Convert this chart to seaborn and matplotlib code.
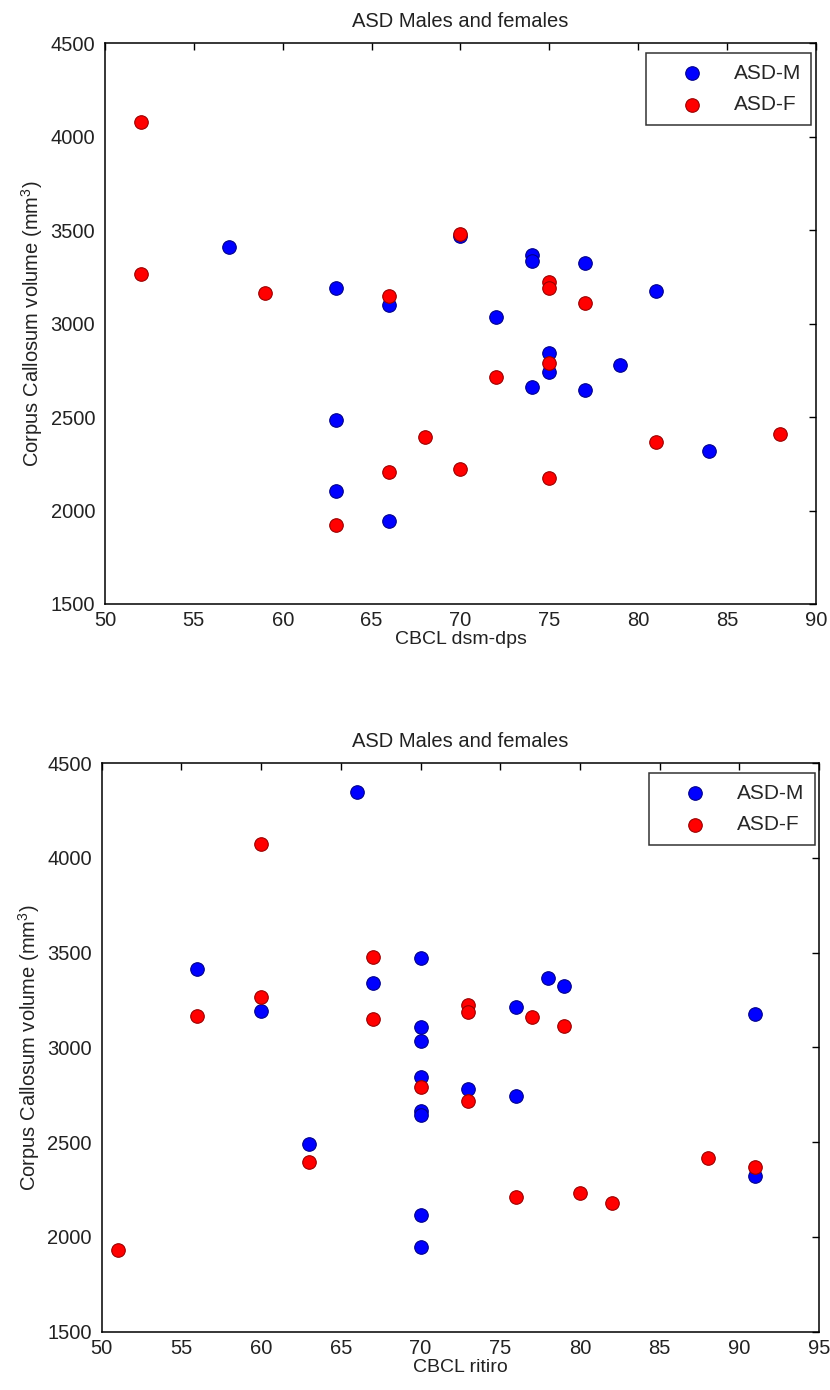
import matplotlib
matplotlib.use("Agg")
import matplotlib.pyplot as plt
import seaborn as sns
import pandas as pd

# CBCL dsm-dps vs corpus callosum volume
dps_m_x = [57, 63, 66, 70, 74, 74, 77, 81, 72, 75, 75, 79, 74, 77, 84, 63, 63, 66]
dps_m_y = [3410, 3192, 3101, 3470, 3365, 3335, 3324, 3173, 3035, 2842, 2740, 2780, 2663, 2646, 2320, 2487, 2106, 1942]
dps_f_x = [52, 52, 59, 66, 70, 75, 75, 77, 75, 72, 68, 70, 75, 81, 88, 66, 63]
dps_f_y = [4080, 3268, 3164, 3147, 3478, 3223, 3190, 3110, 2788, 2717, 2392, 2222, 2172, 2365, 2410, 2204, 1924]

# CBCL ritiro vs corpus callosum volume
rit_m_x = [66, 70, 56, 67, 60, 70, 70, 78, 79, 76, 91, 73, 76, 91, 70, 70, 70, 63, 70, 70]
rit_m_y = [4347, 3470, 3412, 3342, 3192, 3106, 3035, 3368, 3324, 3212, 3175, 2779, 2745, 2323, 2845, 2666, 2643, 2490, 2114, 1948]
rit_f_x = [60, 67, 60, 56, 67, 73, 73, 77, 79, 73, 88, 91, 76, 80, 82, 70, 63, 51]
rit_f_y = [4074, 3479, 3268, 3166, 3148, 3224, 3189, 3159, 3113, 2719, 2414, 2370, 2212, 2230, 2177, 2789, 2393, 1930]

title = "ASD Males and females"
ylabel = "Corpus Callosum volume (mm$^3$)"
groups = ["ASD-M", "ASD-F"]
palette = {"ASD-M": "#0000ff", "ASD-F": "#ff0000"}
edges = {"ASD-M": "#00008a", "ASD-F": "#9a0000"}

sns.set_theme(style="white")
plt.rcParams["font.family"] = ["Liberation Sans", "DejaVu Sans"]
plt.rcParams["mathtext.fontset"] = "custom"
plt.rcParams["mathtext.rm"] = "Liberation Sans"

fig = plt.figure(figsize=(8.3, 13.9), dpi=100)
ax1 = fig.add_axes([0.1265, 0.5655, 0.8565, 0.4033])
ax2 = fig.add_axes([0.1225, 0.042, 0.8645, 0.4089])


def build(mx, my, fx, fy):
    return pd.DataFrame({
        "x": mx + fx,
        "y": my + fy,
        "group": [groups[0]] * len(mx) + [groups[1]] * len(fx),
    })


def draw(ax, df, xlabel, xlim, xticks):
    for g in groups:
        sub = df[df["group"] == g]
        sns.scatterplot(data=sub, x="x", y="y", ax=ax, color=palette[g],
                        edgecolor=edges[g], linewidth=0.8, s=95,
                        marker="o", label=g, zorder=3)
    ax.set_xlim(*xlim)
    ax.set_ylim(1500, 4500)
    ax.set_xticks(xticks)
    ax.set_yticks(range(1500, 4501, 500))
    ax.set_title(title, fontsize=14.5, pad=12, color="#222222")
    ax.set_xlabel(xlabel, fontsize=14, color="#222222", labelpad=1)
    ax.set_ylabel(ylabel, fontsize=14.5, color="#222222", labelpad=4)
    ax.tick_params(axis="both", labelsize=14.5, colors="#222222",
                   direction="in", length=5, width=1, top=True, right=True)
    ax.tick_params(axis="x", pad=5)
    ax.tick_params(axis="y", pad=7)
    ax.tick_params(axis="both", which="both", color="black")
    for sp in ax.spines.values():
        sp.set_color("black")
        sp.set_linewidth(1.1)
    leg = ax.legend(loc="upper right", fontsize=15, frameon=True,
                    fancybox=False, edgecolor="black", borderpad=0.5,
                    handlelength=3.4, handletextpad=0.3, labelspacing=0.6,
                    bbox_to_anchor=(0.9935, 0.9825), borderaxespad=0)
    leg.get_frame().set_linewidth(1.1)


draw(ax1, build(dps_m_x, dps_m_y, dps_f_x, dps_f_y), "CBCL dsm-dps",
     (50, 90), range(50, 91, 5))
draw(ax2, build(rit_m_x, rit_m_y, rit_f_x, rit_f_y), "CBCL ritiro",
     (50, 95), range(50, 96, 5))

fig.savefig("out.png", dpi=100, facecolor="white")
